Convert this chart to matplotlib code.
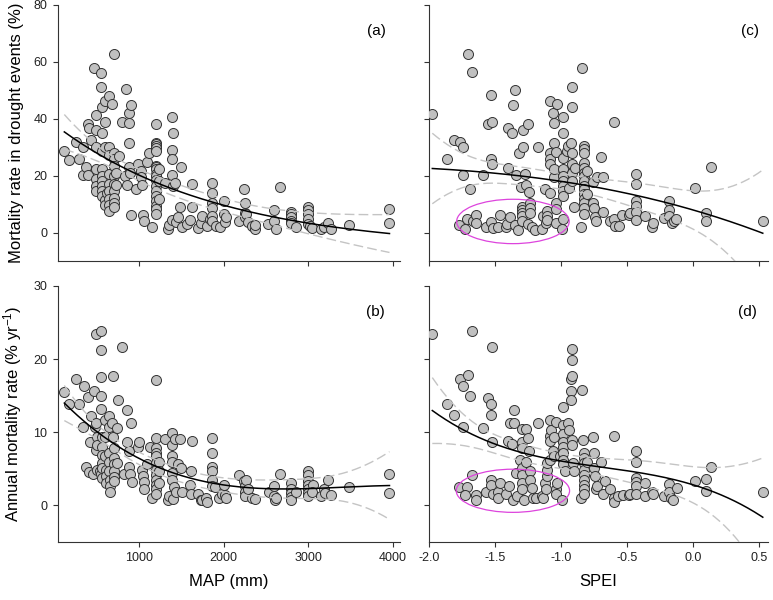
import numpy as np
import matplotlib
matplotlib.use('Agg')
import matplotlib.pyplot as plt
from matplotlib.patches import Ellipse

plt.rcParams['font.family'] = ['Liberation Sans', 'DejaVu Sans']
plt.rcParams['mathtext.default'] = 'regular'

# (a) MAP vs mortality rate in drought events
map_a = [119, 170, 257, 292, 343, 343, 375, 398, 402, 414, 430, 469, 489, 497, 493, 497, 493, 497, 493,
         556, 556, 560, 560, 560, 564, 560, 560, 560, 560, 564, 600, 603, 603, 603, 603, 619,
         650, 650, 650, 646, 646, 646, 646, 646, 646, 686, 701, 705, 701, 701, 705, 705, 705, 705, 705, 705,
         729, 729, 760, 796, 835, 847, 855, 879, 879, 879, 883, 902, 894, 910, 965, 985, 1024, 1028, 1032,
         1052, 1056, 1091, 1123, 1150,
         1200, 1200, 1200, 1200, 1200, 1200, 1200, 1200, 1200, 1200, 1200, 1200, 1200, 1200, 1200, 1200,
         1200, 1200, 1200,
         1232, 1232, 1232, 1307, 1346, 1358, 1389, 1389, 1401, 1393, 1393, 1393, 1405, 1421, 1444, 1464,
         1488, 1499, 1515, 1570, 1601, 1625, 1633, 1704, 1731, 1751, 1806, 1837,
         1869, 1869, 1869, 1869, 1869, 1869,
         1916, 1955, 2003, 2003, 2022, 2034, 2184, 2239, 2250, 2250, 2250, 2270, 2290, 2341, 2372, 2372,
         2530, 2596, 2596, 2624, 2663,
         2801, 2801, 2801, 2801, 2801, 2852,
         3000, 3000, 3000, 3000, 3000, 3020, 3044, 3155, 3182, 3237, 3265, 3481, 3961, 3961]
mort_a = [28.5, 25.6, 31.8, 26, 30.2, 20.1, 23.2, 20.1, 38.1, 36.7, 32.5, 57.7, 36.1, 41.4, 30.1, 22.2, 18.7, 16.4, 14.6,
          56.1, 51.3, 44.2, 35.1, 28.7, 22.2, 19.9, 18.1, 16.4, 14.6, 12.9, 46.4, 30.2, 38.9, 11.6, 9.6, 14,
          48, 30, 27.1, 20.7, 17, 14.5, 11.7, 9.6, 7.5, 45.3, 62.6, 28.1, 25.7, 23.4, 19.9, 17, 14.6, 12.3, 10.5, 9.1,
          21.1, 16.6, 26.9, 38.7, 19.9, 50.3, 16.7, 42, 38.6, 31.6, 23, 45, 21.1, 6.1, 15.4, 24, 21.6, 19.4, 16.6,
          6.3, 4.1, 24.9, 28.1, 2,
          38, 31.6, 31, 30.4, 29.8, 28.7, 23.4, 23, 22.2, 20.7, 19.9, 18.4, 16.4, 14.6, 12.9, 11.1,
          9.4, 8.2, 6.4,
          22.2, 18.1, 11.7, 17.5, 1.4, 2.6, 4.4, 40.6, 35.1, 28.9, 26, 20.2, 16.4, 17.5, 3.7, 5.6,
          9.1, 22.9, 2, 2.9, 4.4, 9.1, 17, 1.6, 3.3, 5.8, 2.3, 4.7,
          17.5, 14, 10.3, 8.8, 5.8, 4.1,
          2.3, 1.8, 11.1, 6.4, 3.7, 5.3, 4.1, 15.4, 10.3, 7, 5.3, 6.4, 3.7, 2.3, 1.2, 2.6,
          2.9, 8, 4.1, 1.2, 16,
          7.4, 6.4, 5.3, 4.1, 3.3, 2,
          9.1, 8, 6.4, 4.7, 2.9, 2.3, 1.6, 1.4, 2, 3.5, 1.2, 2.6, 8.4, 3.3]

# (c) SPEI vs mortality rate in drought events
spei_c = [-1.975, -1.861, -1.813, -1.763, -1.742, -1.742, -1.712, -1.692, -1.702, -1.672, -1.775, -1.730,
          -1.667, -1.641, -1.641, -1.591, -1.566, -1.533, -1.551, -1.520, -1.533, -1.520, -1.533, -1.515,
          -1.475, -1.46, -1.414, -1.412, -1.402, -1.402, -1.389, -1.371, -1.364, -1.351, -1.351, -1.343,
          -1.323, -1.316, -1.290, -1.290, -1.301,
          -1.293, -1.293, -1.293, -1.293, -1.293,
          -1.268, -1.270, -1.250, -1.245, -1.237, -1.237, -1.237, -1.250, -1.220, -1.194, -1.172, -1.141,
          -1.136, -1.124, -1.111, -1.104, -1.104, -1.104,
          -1.083, -1.083, -1.083, -1.083, -1.081, -1.061,
          -1.053, -1.053, -1.053, -1.053, -1.030,
          -1.035, -1.035, -1.035, -1.035, -0.995,
          -0.985, -0.985, -0.985, -0.985, -0.985, -0.985, -0.985, -0.985, -0.985,
          -0.982, -0.955, -0.947, -0.942, -0.922, -0.917,
          -0.914, -0.914, -0.914, -0.914, -0.914, -0.902, -0.894, -0.851, -0.843, -0.828,
          -0.823, -0.823, -0.823, -0.823, -0.823, -0.823, -0.823, -0.823, -0.823, -0.823, -0.823, -0.823,
          -0.823, -0.823,
          -0.803, -0.803, -0.758, -0.758, -0.753, -0.745, -0.727, -0.732, -0.694, -0.682, -0.682, -0.631,
          -0.601, -0.598, -0.588, -0.561, -0.535, -0.485, -0.480,
          -0.434, -0.434, -0.434, -0.434, -0.434, -0.434,
          -0.366, -0.308, -0.303, -0.215, -0.182, -0.182, -0.182, -0.157, -0.146, -0.126,
          0.015, 0.096, 0.096, 0.139, 0.530]
mort_c = [41.5, 26, 32.5, 31.8, 30.1, 20.2, 4.9, 15.2, 62.6, 56.3, 2.7, 1.4,
          4.1, 6.1, 3.3, 20.1, 2, 48.2, 38, 38.8, 25.7, 24, 3.7, 1.6,
          2, 6.1, 1.8, 2.9, 36.7, 22.7, 5.4, 35.1, 45, 50, 2.6, 20.1,
          0.9, 27.8, 36.1, 30.1, 16,
          9.1, 8, 7, 5.8, 4.1,
          16.6, 20.5, 38, 14.3, 10.3, 8.8, 7, 2.9, 2, 0.9, 30.1, 1.2,
          5.8, 15.2, 3.3, 7.6, 5.8, 4.4,
          46.4, 27.8, 26, 24, 14, 42.1,
          38.6, 31.6, 19.6, 22.2, 45.3,
          28.3, 10.3, 8.4, 3.3, 1.4,
          40.7, 35.1, 26.3, 22.2, 19.9, 18.1, 16.4, 14.6, 12.9,
          4.7, 28.7, 30.4, 15.8, 31.6, 28.1,
          51.2, 44.2, 24, 21.1, 18.1, 9.1, 22.8, 2.1, 57.8, 30.4,
          29.2, 28.1, 24.6, 22.8, 21.1, 19.9, 18.1, 16.4, 15.2, 13.5, 11.7, 10.3,
          8.8, 6.4,
          21.6, 13.5, 17.8, 10.3, 8.8, 5.3, 19.6, 4.1, 26.7, 19.6, 7.3, 4.1,
          38.9, 4.9, 2.3, 2.3, 6.1, 6.1, 7,
          20.5, 17, 11.1, 9.4, 7.4, 4.3,
          5.8, 1.8, 3.3, 5, 11, 7.8, 5.8, 3.3, 4.1, 4.7,
          15.6, 7, 4.1, 23, 3.9]

# (b) MAP vs annual mortality rate
map_b = [119, 170, 257, 292, 343, 351, 375, 402, 414, 422, 430, 453, 469, 481, 493, 493, 497, 500, 500, 500,
         540, 548, 556, 556, 556, 556, 556, 560, 560, 560, 560, 564, 564, 600, 603, 603, 607, 611, 611,
         646, 646, 646, 650, 650, 654, 654, 654, 682, 697, 697, 701, 701, 701, 701, 701, 701,
         737, 737, 756, 800, 827, 855, 855, 879, 886, 894, 906, 918, 988, 1004, 1035, 1052, 1059, 1063,
         1098, 1130, 1157,
         1197, 1197, 1197, 1197, 1197, 1197, 1197, 1197, 1197, 1197, 1197, 1197,
         1232, 1232, 1232, 1307, 1346, 1358, 1389, 1393, 1393, 1393, 1393, 1393,
         1405, 1413, 1425, 1444, 1464, 1488, 1503, 1515, 1601, 1613, 1621, 1633, 1704, 1731, 1751, 1798, 1810,
         1869, 1869, 1869, 1869, 1869, 1869,
         1896, 1947, 1986, 2003, 2014, 2034, 2184, 2243, 2250, 2250, 2250, 2270, 2290, 2341, 2372,
         2538, 2593, 2593, 2609, 2624, 2663,
         2801, 2801, 2801, 2801, 2801, 2852,
         3000, 3000, 3000, 3000, 3000, 3000, 3000,
         3059, 3044, 3155, 3182, 3194, 3237, 3265, 3481, 3961, 3961]
ann_b = [15.5, 13.8, 17.3, 13.9, 10.7, 16.3, 5.2, 14.8, 4.6, 8.7, 12.2, 4.3, 15.7, 10.7, 23.4, 7.6, 11.2, 9.4, 8.3, 4.8,
         4.7, 4.3, 23.8, 21.2, 17.6, 14.9, 13.2, 9.4, 8, 6.9, 5.8, 5.1, 3.8, 11.7, 9.4, 6.8, 4.9, 4, 3,
         12.2, 10.7, 7.1, 6, 4.7, 3.5, 2.6, 1.9, 11.2, 17.7, 9.4, 7.8, 6.5, 5.6, 4.7, 3.9, 3.3,
         10.6, 5.8, 14.4, 21.7, 4.3, 13, 8.7, 7.4, 5.2, 4.3, 11.2, 3.2, 8, 8.7, 4.9, 4, 3.2, 2.2,
         5.7, 8, 1,
         17.2, 9.2, 7.8, 7.1, 6.7, 5.8, 4.9, 4.2, 3.5, 2.8, 2.2, 1.5,
         6, 4.7, 3.1, 9.1, 0.7, 1.3, 9.9, 8.2, 6.7, 5.9, 4.4, 3.5,
         0.9, 2.5, 9.1, 1.9, 5.6, 9.1, 5.1, 1.9, 2.8, 1.5, 4.7, 8.8, 1.5, 0.8, 0.7, 1, 0.5,
         9.2, 7.2, 5.2, 4.7, 3.5, 2.6,
         2.5, 1, 1.6, 2.8, 1.4, 1, 4.1, 3.3, 2.6, 1.9, 1.3, 3.5, 2.2, 1, 0.9,
         1.8, 2.7, 1.3, 0.7, 1, 4.3,
         3.1, 2.2, 1.7, 1.2, 0.7, 1.9,
         4.7, 4.1, 3.4, 2.8, 2.3, 1.7, 1.3,
         2.8, 1.8, 1.3, 2.3, 1.7, 3.5, 1.4, 2.5, 4.3, 1.7]

# (d) SPEI vs annual mortality rate
spei_d = [-1.975, -1.861, -1.813, -1.763, -1.742, -1.702, -1.692, -1.672, -1.742, -1.773, -1.712, -1.730,
          -1.672, -1.641, -1.641, -1.591, -1.566, -1.553, -1.533, -1.533, -1.520, -1.520, -1.533, -1.533,
          -1.515, -1.475, -1.475, -1.46, -1.414, -1.402, -1.394, -1.389, -1.371, -1.364, -1.354, -1.359,
          -1.343, -1.331, -1.313,
          -1.293, -1.293, -1.293, -1.293, -1.293, -1.293, -1.293,
          -1.283, -1.268, -1.263, -1.250, -1.242, -1.237, -1.237, -1.220, -1.212, -1.187, -1.172, -1.144,
          -1.136, -1.119, -1.111, -1.104, -1.104, -1.104,
          -1.083, -1.083, -1.083, -1.083, -1.076, -1.061, -1.053, -1.056,
          -1.035, -1.035, -1.035, -1.030, -1.010, -0.990,
          -0.985, -0.985, -0.985, -0.985, -0.985, -0.985, -0.985, -0.985,
          -0.972, -0.947, -0.942, -0.922, -0.922, -0.922,
          -0.914, -0.914, -0.914, -0.914, -0.914, -0.909, -0.902, -0.843, -0.851, -0.833,
          -0.823, -0.823, -0.823, -0.823, -0.823, -0.823, -0.823, -0.823, -0.823,
          -0.803, -0.758, -0.753, -0.753, -0.745, -0.732, -0.727, -0.694, -0.682, -0.669, -0.631,
          -0.601, -0.598, -0.598, -0.568, -0.530, -0.485, -0.480,
          -0.434, -0.434, -0.434, -0.434, -0.434, -0.434,
          -0.366, -0.366, -0.308, -0.303, -0.215, -0.182, -0.182, -0.164, -0.152, -0.121,
          0.015, 0.096, 0.096, 0.139, 0.530]
ann_d = [23.4, 13.9, 12.3, 17.3, 16.3, 17.8, 15, 23.9, 10.7, 2.5, 2.5, 1.4,
         4.1, 1.4, 0.7, 10.6, 1.9, 14.7, 13.8, 12.3, 21.7, 8.7, 3.5, 2.8,
         1.6, 1.8, 1, 3.1, 1.6, 8.8, 2.6, 11.2, 8.4, 0.8, 13, 11.2,
         4.4, 1.3, 6.2,
         10.5, 8.6, 7.8, 5.1, 4.2, 3.1, 2.2,
         0.8, 10.5, 6, 9.2, 7.4, 4.7, 3.5, 2.4, 1, 1, 11.2, 1.3,
         1, 3.1, 2.2, 4, 4.9, 5.8,
         11.7, 9.5, 8.8, 6.2, 10.3, 7.4, 6.8, 9.4,
         11.4, 2.2, 1.6, 3.1, 6.7, 0.8,
         13.5, 11, 9.8, 8.7, 8, 7.1, 6.2, 5.6,
         4.7, 11.3, 10.3, 15.7, 14.4, 17.3,
         17.7, 19.9, 21.4, 8.9, 8.3, 5.8, 4.7, 15.8, 1, 9,
         7.1, 6.5, 5.8, 4.9, 4.2, 3.5, 2.8, 2.2, 1.5,
         6, 9.3, 7.1, 5.1, 4, 2.2, 2.7, 6, 1.6, 3.3, 2.2,
         9.5, 1, 0.5, 1.3, 1.4, 1.4, 1.6,
         7.4, 6, 3.7, 3.2, 2.6, 1.6,
         3.1, 1.3, 1.9, 1.6, 1.3, 2.9, 1.9, 1, 0.8, 2.4,
         3.4, 3.6, 2, 5.2, 1.9]

# highlighted groups (centre x, centre y, width, height)
ellipse_c = [-1.364, 3.9, 0.853, 15.6]
ellipse_d = [-1.364, 2.0, 0.859, 5.9]

panel_labels = ['(a)', '(b)', '(c)', '(d)']


def fit_poly(x, y, deg=3, n=200):
    """polynomial regression with 95% confidence band"""
    x = np.asarray(x, float)
    y = np.asarray(y, float)
    sc = np.abs(x).max()  # scale x to keep the design matrix well conditioned
    X = np.vander(x / sc, deg + 1)
    coef = np.linalg.lstsq(X, y, rcond=None)[0]
    s2 = np.sum((y - X @ coef) ** 2) / (len(x) - deg - 1)
    cov = s2 * np.linalg.inv(X.T @ X)
    xs = np.linspace(x.min(), x.max(), n)
    Xs = np.vander(xs / sc, deg + 1)
    ys = Xs @ coef
    se = np.sqrt(np.einsum('ij,jk,ik->i', Xs, cov, Xs))
    return xs, ys, ys - 1.97 * se, ys + 1.97 * se


def fit_expdecay(x, y, n=200):
    """y = y0 + A*exp(-b*x), 3 parameter exponential decay with 95% confidence band"""
    x = np.asarray(x, float)
    y = np.asarray(y, float)
    sc = x.max()
    t = x / sc
    best = None
    for b in np.linspace(0.05, 15, 3000):
        X = np.column_stack([np.ones_like(t), np.exp(-b * t)])
        p = np.linalg.lstsq(X, y, rcond=None)[0]
        sse = np.sum((y - X @ p) ** 2)
        if best is None or sse < best[0]:
            best = (sse, p[0], p[1], b)
    sse, y0, A, b = best
    J = np.column_stack([np.ones_like(t), np.exp(-b * t), -A * t * np.exp(-b * t)])
    cov = sse / (len(x) - 3) * np.linalg.inv(J.T @ J)
    xs = np.linspace(x.min(), x.max(), n)
    ts = xs / sc
    G = np.column_stack([np.ones_like(ts), np.exp(-b * ts), -A * ts * np.exp(-b * ts)])
    ys = y0 + A * np.exp(-b * ts)
    se = np.sqrt(np.einsum('ij,jk,ik->i', G, cov, G))
    return xs, ys, ys - 1.97 * se, ys + 1.97 * se


def draw_panel(ax, x, y, fit, label, lab_x):
    ax.scatter(x, y, s=52, facecolor='#c0c0c0', edgecolor='#333333', linewidths=0.7, zorder=3)
    xs, ys, lo, hi = fit(x, y)
    ax.plot(xs, ys, color='black', lw=1.1, zorder=4)
    for b in (lo, hi):
        ax.plot(xs, b, color='#c4c4c4', lw=1.0, dashes=(7, 3), zorder=4)
    for s in ('top', 'right'):
        ax.spines[s].set_visible(False)
    for s in ('left', 'bottom'):
        ax.spines[s].set_linewidth(0.8)
        ax.spines[s].set_color('#333333')
    ax.tick_params(direction='out', length=3.5, width=0.8, color='#333333',
                   labelsize=9, pad=4, labelcolor='#222222')
    ax.text(lab_x, 0.90, label, transform=ax.transAxes, ha='center', va='center', fontsize=11)


fig = plt.figure(figsize=(7.73, 6.0), dpi=100)
ax_a = fig.add_axes([0.075, 0.565, 0.442, 0.4267])
ax_c = fig.add_axes([0.555, 0.565, 0.4386, 0.4267])
ax_b = fig.add_axes([0.075, 0.0967, 0.442, 0.4267])
ax_d = fig.add_axes([0.555, 0.0967, 0.4386, 0.4267])

draw_panel(ax_a, map_a, mort_a, fit_expdecay, panel_labels[0], 0.933)
draw_panel(ax_b, map_b, ann_b, fit_poly, panel_labels[1], 0.930)
draw_panel(ax_c, spei_c, mort_c, fit_poly, panel_labels[2], 0.947)
draw_panel(ax_d, spei_d, ann_d, fit_poly, panel_labels[3], 0.938)

for ax, e in ((ax_c, ellipse_c), (ax_d, ellipse_d)):
    ax.add_patch(Ellipse((e[0], e[1]), e[2], e[3], fill=False, edgecolor='#dd44dd', lw=0.9, zorder=5))

for ax in (ax_a, ax_b):
    ax.set_xlim(44, 4081)
    ax.set_xticks([1000, 2000, 3000, 4000])
for ax in (ax_c, ax_d):
    ax.set_xlim(-2.0, 0.57)
    ax.set_xticks([-2.0, -1.5, -1.0, -0.5, 0.0, 0.5])
for ax in (ax_a, ax_c):
    ax.set_ylim(-10, 80)
    ax.set_yticks([0, 20, 40, 60, 80])
    ax.tick_params(labelbottom=False)
for ax in (ax_b, ax_d):
    ax.set_ylim(-5, 30)
    ax.set_yticks([0, 10, 20, 30])
for ax in (ax_c, ax_d):
    ax.tick_params(labelleft=False)
ax_d.set_xticklabels(['-2.0', '-1.5', '-1.0', '-0.5', '0.0', '0.5'])

ax_a.set_ylabel('Mortality rate in drought events (%)', fontsize=12)
ax_b.set_ylabel('Annual mortality rate (% yr$^{-1}$)', fontsize=12)
ax_a.yaxis.set_label_coords(-0.100, 0.5)
ax_b.yaxis.set_label_coords(-0.100, 0.5)
ax_b.set_xlabel('MAP (mm)', fontsize=12)
ax_d.set_xlabel('SPEI', fontsize=12)
ax_b.xaxis.set_label_coords(0.5, -0.125)
ax_d.xaxis.set_label_coords(0.5, -0.125)

fig.savefig('out.png', dpi=100)
